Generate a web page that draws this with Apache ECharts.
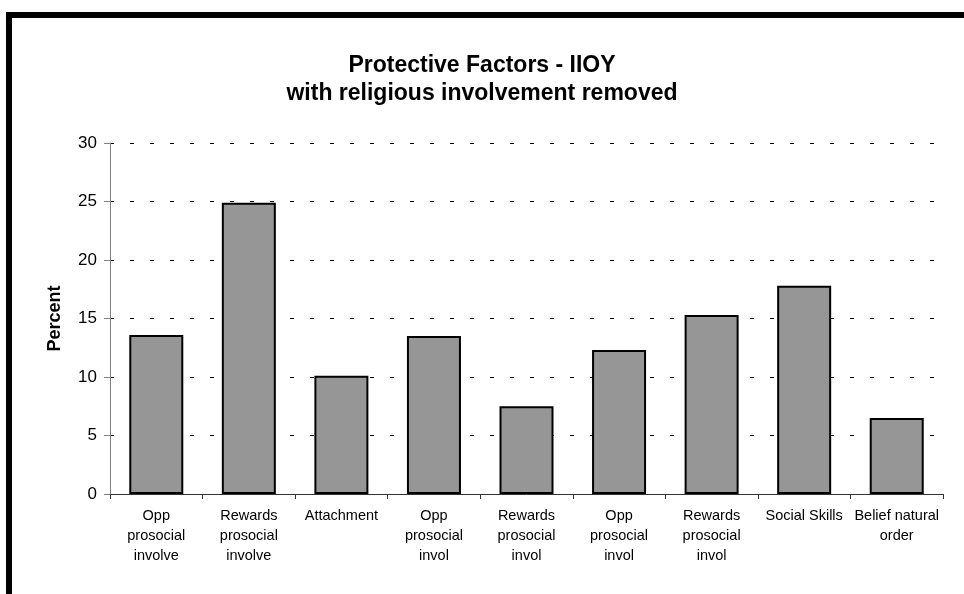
<!DOCTYPE html>
<html>
<head>
<meta charset="utf-8">
<title>Protective Factors - IIOY</title>
<script src="https://cdn.jsdelivr.net/npm/echarts@6/dist/echarts.min.js"></script>
<style>
  html, body { margin: 0; padding: 0; background: #fff; overflow: hidden; }
  #chart { position: absolute; left: 0; top: 0; width: 964px; height: 594px; }
  /* black frame along the top and left edges of the page */
  #frame {
    position: absolute; left: 6px; top: 12px; width: 980px; height: 600px;
    border-top: 6px solid #000; border-left: 6px solid #000;
    pointer-events: none; box-sizing: border-box;
  }
</style>
</head>
<body>
<div id="chart"></div>
<div id="frame"></div>
<script>
// Protective factor categories (multi-line axis labels)
const categories = [
  'Opp\nprosocial\ninvolve',
  'Rewards\nprosocial\ninvolve',
  'Attachment',
  'Opp\nprosocial\ninvol',
  'Rewards\nprosocial\ninvol',
  'Opp\nprosocial\ninvol',
  'Rewards\nprosocial\ninvol',
  'Social Skills',
  'Belief natural\norder'
];

// Percent of youth reporting each protective factor
const percentValues = [13.6, 24.9, 10.1, 13.5, 7.5, 12.3, 15.3, 17.8, 6.5];

// Value axis ticks
const yMin = 0;
const yMax = 30;
const yStep = 5;

const FONT = '"Liberation Sans", Arial, Helvetica, sans-serif';

const chart = echarts.init(document.getElementById('chart'), null, { renderer: 'canvas' });

chart.setOption({
  animation: false,
  backgroundColor: '#ffffff',
  title: {
    text: 'Protective Factors - IIOY\nwith religious involvement removed',
    left: 'center',
    top: 47,
    textStyle: {
      fontFamily: FONT,
      fontSize: 23,
      fontWeight: 'bold',
      lineHeight: 28,
      color: '#000'
    }
  },
  grid: {
    left: 110,
    right: 21,
    top: 143,
    bottom: 100,
    containLabel: false
  },
  xAxis: {
    type: 'category',
    data: categories,
    boundaryGap: true,
    axisLine: { show: true, lineStyle: { color: '#333', width: 1 } },
    axisTick: { show: true, alignWithLabel: false, length: 5, lineStyle: { color: '#333' } },
    axisLabel: {
      interval: 0,
      margin: 12,
      fontFamily: FONT,
      fontSize: 14.5,
      lineHeight: 20,
      color: '#000'
    },
    splitLine: { show: false }
  },
  yAxis: {
    type: 'value',
    min: yMin,
    max: yMax,
    interval: yStep,
    name: 'Percent',
    nameLocation: 'middle',
    nameGap: 46,
    nameTextStyle: {
      fontFamily: FONT,
      fontSize: 18,
      fontWeight: 'bold',
      color: '#000'
    },
    axisLine: { show: true, lineStyle: { color: '#808080', width: 1 } },
    axisTick: { show: true, inside: false, length: 6, lineStyle: { color: '#808080' } },
    axisLabel: {
      margin: 13,
      fontFamily: FONT,
      fontSize: 17,
      color: '#000'
    },
    splitLine: {
      show: true,
      lineStyle: { color: '#000', width: 1, type: [4, 16], dashOffset: 0 }
    }
  },
  series: [{
    type: 'bar',
    data: percentValues,
    barWidth: 54,
    itemStyle: {
      color: '#969696',
      borderColor: '#000',
      borderWidth: 2
    },
    emphasis: { disabled: true }
  }]
});
</script>
</body>
</html>
